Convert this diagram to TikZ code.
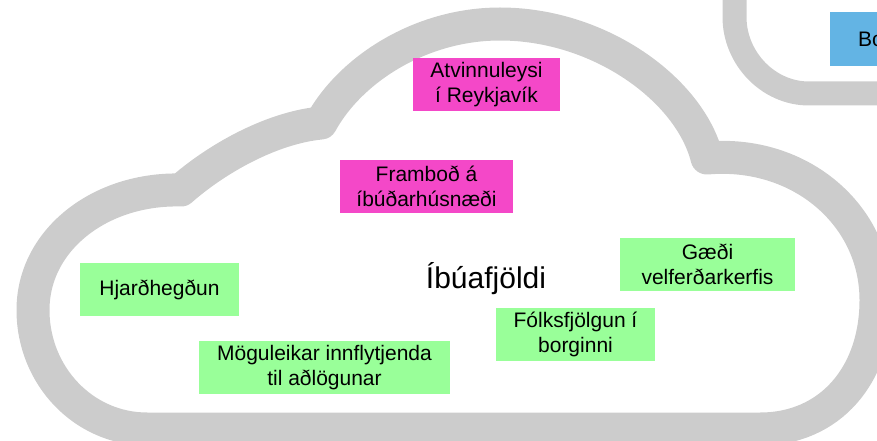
\documentclass[tikz,border=0pt]{standalone}
\usepackage{fontspec}
\setmainfont{Liberation Sans}
\definecolor{cloudgray}{HTML}{CCCCCC}
\definecolor{boxmag}{RGB}{244,72,200}
\definecolor{boxgreen}{RGB}{153,255,153}
\definecolor{boxblue}{RGB}{99,180,228}
\begin{document}
\begin{tikzpicture}[x=1pt,y=-1pt,
  cloudline/.style={draw=cloudgray, line join=round},
  box/.style={inner sep=0pt, align=center, font=\fontsize{21}{25.5}\selectfont, text=black, minimum height=53pt},
  mag/.style={box, fill=boxmag},
  grn/.style={box, fill=boxgreen}]
\useasboundingbox (0,0) rectangle (877,441);
% second cloud (top right, partly visible)
\draw[cloudline, line width=24pt] (734.5,-40) -- (734.5,17)
  .. controls (734.5,58) and (768,93.5) .. (809,93.5) -- (920,93.5);
% main cloud
\draw[cloudline, line width=33pt] (147,429)
  .. controls (84,429) and (33,376) .. (33,310)
  .. controls (33,240) and (100,188) .. (181,190)
  .. controls (215,160) and (270,128) .. (321,123)
  .. controls (350,70) and (420,24) .. (500,24)
  .. controls (600,24) and (690,90) .. (707,158)
  .. controls (800,150) and (876,215) .. (876,300)
  .. controls (876,375) and (830,429) .. (760,429)
  -- cycle;
% boxes
\node[mag, minimum width=147pt] (atv) at (486.5,84.5) {Atvinnuleysi\\í Reykjavík};
\node[mag, minimum width=173pt] (fram) at (426.5,186.5) {Framboð á\\íbúðarhúsnæði};
\node[grn, minimum width=159pt] (hjar) at (159.5,289.5) {Hjarðhegðun};
\node[grn, minimum width=251pt] (mog) at (324.5,367.5) {Möguleikar innflytjenda\\til aðlögunar};
\node[grn, minimum width=159pt] (folk) at (575.5,334.5) {Fólksfjölgun í\\borginni};
\node[grn, minimum width=175pt] (gaedi) at (707.5,264.5) {Gæði\\velferðarkerfis};
\node[box, fill=boxblue, anchor=west, minimum height=54pt, inner xsep=28pt, text width=60pt, align=left] (bo) at (830,39) {Bo};
\node[font=\fontsize{30}{36}\selectfont, anchor=base, inner sep=0pt] (ibu) at (486,288) {Íbúafjöldi};
\end{tikzpicture}
\end{document}
